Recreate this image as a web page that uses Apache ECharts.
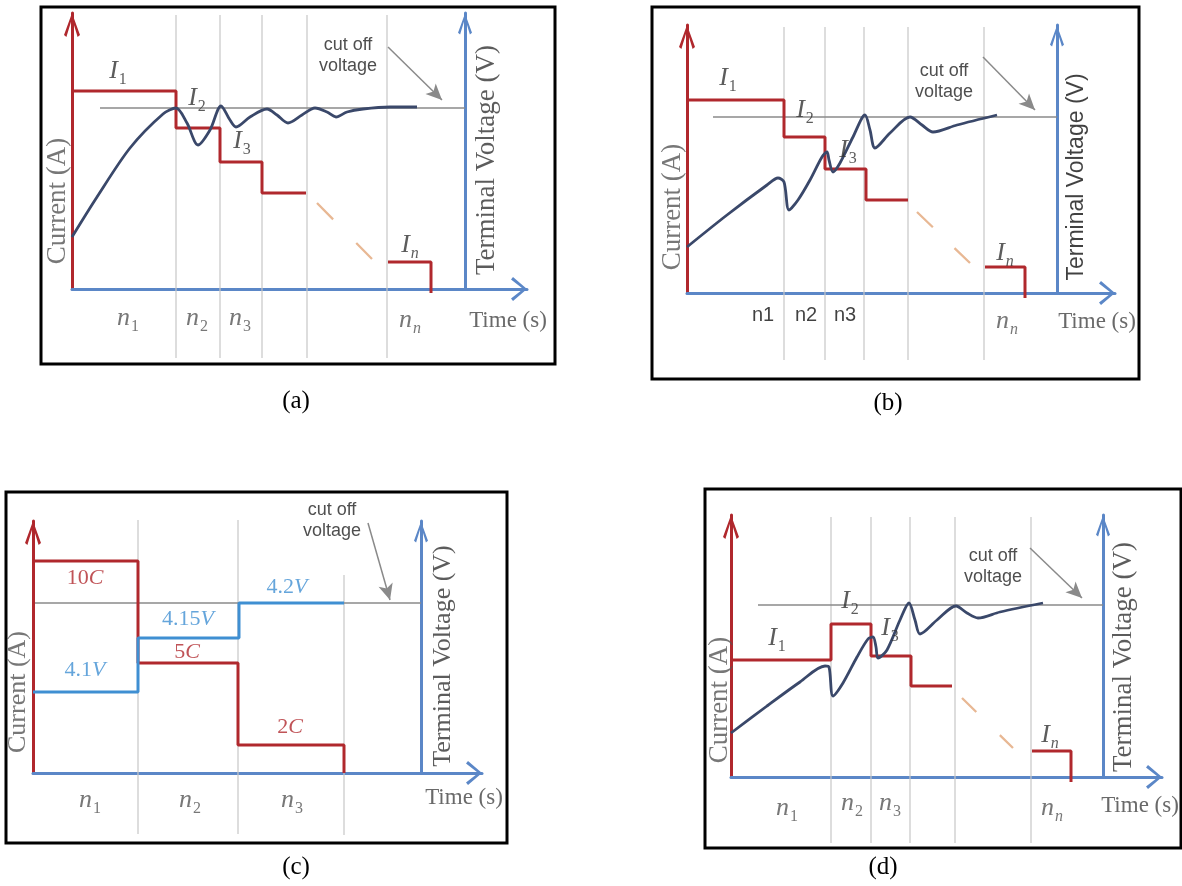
<!DOCTYPE html>
<html><head><meta charset="utf-8">
<script src="https://cdn.jsdelivr.net/npm/echarts@6/dist/echarts.min.js"></script>
<style>html,body{margin:0;padding:0;background:#fff}#c{width:1182px;height:886px}</style>
</head><body><div id="c"></div>
<script>
// ================= DATA (schematic units, origin at axes corner) =================
// ---- Panel (a) ----
const aCurrentSteps = [[0,198],[104,198],[104,161],[148,161],[148,127],[190,127],[190,96],[234,96]];
const aCurrentLast  = [[316,27],[359,27],[359,-4]];
const aTrend        = [[245,86],[300,30]];
const aVoltage      = [[0,52],[25,92],[58,141],[91,175],[104,181],[115,166],[126,144],[138,159],[149,183],[158,169],[164,162],[178,172],[195,180],[205,174],[216,166],[230,174],[243,181],[255,177],[264,172],[275,177],[291,180],[318,182],[345,182]];
const aCutoff       = [[28,181],[393,181]];
const aBoundaries   = [104,148,190,235,315];
const aBoundTop     = [274,274,274,274,274];
const aBoundBottom  = [-69,-69,-69,-69,-69];
const aCurrentSubs  = ['1','2','3','n'];
const aCurrentLblX  = [46,125,170,338];
const aCurrentLblY  = [216,189,146,42];
const aSegSubs      = ['1','2','3','n'];
const aSegLblX      = [56,125,168,338];
const aSegLblY      = [-31,-31,-31,-33];
const aArrow        = [[316,242],[370,189]];

// ---- Panel (b) ----
const bCurrentSteps = [[0,193],[97,193],[97,156],[138,156],[138,124],[179,124],[179,93],[221,93]];
const bCurrentLast  = [[298,26],[338,26],[338,-5]];
const bTrend        = [[230,81],[283,30]];
const bVoltage      = [[0,46],[40,78],[80,108],[91,115],[97,111],[102,83],[111,93],[123,113],[135,136],[140,141],[142,133],[146,121],[153,130],[166,156],[178,178],[183,163],[188,145],[203,160],[223,176],[235,168],[246,161],[270,168],[310,178]];
const bCutoff       = [[26,176],[370,176]];
const bBoundaries   = [97,138,177,221,297];
const bBoundTop     = [266,266,266,266,266];
const bBoundBottom  = [-67,-67,-67,-67,-67];
const bCurrentSubs  = ['1','2','3','n'];
const bCurrentLblX  = [41,118,161,318];
const bCurrentLblY  = [213,181,141,38];
const bSegTexts     = ['n1','n2','n3'];
const bSegLblX      = [76,119,158];
const bSegLblY      = [-22,-22,-22];
const bSegLastSub   = 'n';
const bSegLastX     = 320;
const bSegLastY     = -30;
const bArrow        = [[296,236],[348,183]];

// ---- Panel (c) ----
const cCurrentSteps = [[0,212],[105,212],[105,110],[205,110],[205,28],[311,28],[311,0]];
const cVoltageSteps = [[0,81],[105,81],[105,135],[206,135],[206,170],[311,170]];
const cCutoff       = [[2,170],[388,170]];
const cBoundaries   = [105,205,311];
const cBoundTop     = [253,253,198];
const cBoundBottom  = [-61,-61,-62];
const cCurrentNum   = ['10','5','2'];
const cCurrentLblX  = [52,154,257];
const cCurrentLblY  = [195,121,46];
const cVoltNum      = ['4.1','4.15','4.2'];
const cVoltLblX     = [52,155,254];
const cVoltLblY     = [103,154,186];
const cSegSubs      = ['1','2','3'];
const cSegLblX      = [57,157,259];
const cSegLblY      = [-29,-29,-29];
const cArrow        = [[335,250],[357,173]];

// ---- Panel (d) ----
const dCurrentSteps = [[0,117],[100,117],[100,153],[140,153],[140,121],[180,121],[180,91],[221,91]];
const dCurrentLast  = [[301,26],[340,26],[340,-5]];
const dTrend        = [[231,79],[282,29]];
const dVoltage      = [[0,44],[36,71],[69,95],[94,111],[98,110],[102,81],[112,94],[126,120],[137,138],[142,140],[145,130],[147,119],[156,127],[169,157],[178,174],[184,157],[189,143],[206,157],[225,171],[236,164],[247,159],[269,165],[312,174]];
const dCutoff       = [[27,172],[372,172]];
const dBoundaries   = [100,140,179,224,300];
const dBoundTop     = [260,260,260,260,260];
const dBoundBottom  = [-66,-66,-66,-66,-66];
const dCurrentSubs  = ['1','2','3','n'];
const dCurrentLblX  = [46,119,159,319];
const dCurrentLblY  = [137,174,147,40];
const dSegSubs      = ['1','2','3','n'];
const dSegLblX      = [56,121,159,321];
const dSegLblY      = [-33,-28,-28,-33];
const dArrow        = [[299,229],[351,179]];

// ================= STYLE / LAYOUT =================
const SERIF = '"Liberation Serif","Times New Roman",serif';
const SANS  = '"Liberation Sans",Arial,sans-serif';
const RED = '#b0282d', AXBLUE = '#5b87c7', CURVE = '#3a486a', SEP = '#c6c6c6', CUT = '#8a8a8a', ORANGE = '#e8b894';
const STEPBLUE = '#3f8fd2', TXT = '#333', TXT2 = '#555';
const ARROW_V = 'path://M8,0L16,22L13.6,24L8,5.5L2.4,24L0,22Z';
const ARROW_H = 'path://M12,0L24,14L21.5,16L12,3.8L2.5,16L0,14Z';

const RICH = {
  I:  {fontFamily: SERIF, fontStyle: 'italic', fontSize: 26, color: TXT, verticalAlign: 'top'},
  Is: {fontFamily: SERIF, fontSize: 16, color: TXT, padding: [14,0,0,1], verticalAlign: 'top'},
  Isi:{fontFamily: SERIF, fontStyle: 'italic', fontSize: 16, color: TXT, padding: [14,0,0,1], verticalAlign: 'top'},
  n:  {fontFamily: SERIF, fontStyle: 'italic', fontSize: 26, color: TXT2, verticalAlign: 'top'},
  ns: {fontFamily: SERIF, fontSize: 16, color: TXT2, padding: [14,0,0,1], verticalAlign: 'top'},
  nsi:{fontFamily: SERIF, fontStyle: 'italic', fontSize: 16, color: TXT2, padding: [14,0,0,1], verticalAlign: 'top'},
  r:  {fontFamily: SERIF, fontSize: 22, color: RED},
  ri: {fontFamily: SERIF, fontStyle: 'italic', fontSize: 22, color: RED},
  b:  {fontFamily: SERIF, fontSize: 22, color: STEPBLUE},
  bi: {fontFamily: SERIF, fontStyle: 'italic', fontSize: 22, color: STEPBLUE}
};
function sub(main, s, subStyle) {
  const st = subStyle || (s === 'n' ? (main === 'I' ? 'Isi' : 'nsi') : (main === 'I' ? 'Is' : 'ns'));
  return '{' + (main === 'I' ? 'I' : 'n') + '|' + main + '}{' + st + '|' + s + '}';
}

const LAYOUT = {
  a: {box:[41,7,555,364],  ox:72,  oy:289, top:13,  tip:527,  blue:465,
      cur:{x:58,y:201,size:27,font:SERIF}, volt:{x:487,y:160,size:27,font:SERIF,color:'#333'},
      time:{x:508,y:321}, cut:{x:348,y:56}, caption:{x:296,y:401,t:'(a)'}},
  b: {box:[652,7,1139,379], ox:687, oy:293, top:25,  tip:1115, blue:1057,
      cur:{x:673,y:207,size:27,font:SERIF}, volt:{x:1077,y:177,size:23,font:SANS,color:'#111'},
      time:{x:1097,y:322}, cut:{x:944,y:82}, caption:{x:888,y:403,t:'(b)'}},
  c: {box:[6,492,507,843],  ox:33,  oy:773, top:521, tip:482,  blue:421,
      cur:{x:18,y:692,size:26,font:SERIF}, volt:{x:443,y:656,size:26,font:SERIF,color:'#333'},
      time:{x:464,y:798}, cut:{x:332,y:521}, caption:{x:296,y:867,t:'(c)'}},
  d: {box:[705,489,1181,848], ox:731, oy:777, top:515, tip:1162, blue:1103,
      cur:{x:720,y:700,size:27,font:SERIF}, volt:{x:1124,y:657,size:27,font:SERIF,color:'#333'},
      time:{x:1140,y:806}, cut:{x:993,y:567}, caption:{x:883,y:867,t:'(d)'}}
};

// ================= BUILD =================
const grids = [], xAxes = [], yAxes = [], series = [], graphics = [];

function lineSeries(xi, yi, data, style, extra) {
  return Object.assign({type:'line', xAxisIndex: xi, yAxisIndex: yi, data: data, symbol:'none',
    silent:true, animation:false, clip:false, lineStyle: style}, extra || {});
}
function label(x, y, text, opt) {
  return {value:[x, y], label: Object.assign({show:true, position:'inside', formatter:text, rich: RICH}, opt || {})};
}

function addPanel(L, P) {
  const gm = grids.length;
  grids.push({left:L.ox, top:L.top, width:L.tip-L.ox, height:L.oy-L.top, outerBoundsMode:'none', containLabel:false});
  const gs = grids.length;
  grids.push({left:L.box[0], top:L.box[1], width:L.box[2]-L.box[0], height:L.box[3]-L.box[1], outerBoundsMode:'none', containLabel:false});
  const hide = {axisTick:{show:false}, axisLabel:{show:false}, splitLine:{show:false}};
  const xm = xAxes.length;
  xAxes.push(Object.assign({gridIndex:gm, type:'value', min:0, max:L.tip-L.ox,
    axisLine:{show:true, onZero:false, lineStyle:{color:AXBLUE, width:3},
      symbol:['none', ARROW_H], symbolSize:[24,16], symbolOffset:[0,-8]}}, hide));
  const xs = xAxes.length;
  xAxes.push(Object.assign({gridIndex:gs, type:'value', show:false, min:L.box[0]-L.ox, max:L.box[2]-L.ox}, hide));
  const yr = yAxes.length;
  yAxes.push(Object.assign({gridIndex:gm, type:'value', position:'left', min:0, max:L.oy-L.top,
    axisLine:{show:true, onZero:false, lineStyle:{color:RED, width:3},
      symbol:['none', ARROW_V], symbolSize:[16,24], symbolOffset:[0,-12]}}, hide));
  const yb = yAxes.length;
  yAxes.push(Object.assign({gridIndex:gm, type:'value', position:'right', offset:-(L.tip-L.blue), min:0, max:L.oy-L.top,
    axisLine:{show:true, onZero:false, lineStyle:{color:AXBLUE, width:3},
      symbol:['none', ARROW_V], symbolSize:[14,22], symbolOffset:[0,-11]}}, hide));
  const ys = yAxes.length;
  yAxes.push(Object.assign({gridIndex:gs, type:'value', show:false, min:L.oy-L.box[3], max:L.oy-L.box[1]}, hide));

  // separators
  P.bounds.forEach(function (x, i) {
    series.push(lineSeries(xs, ys, [[x, P.boundTop[i]], [x, P.boundBottom[i]]], {color:SEP, width:1.2}, {z:1}));
  });
  // cutoff line (voltage axis)
  series.push(lineSeries(xm, yb, P.cutoff, {color:CUT, width:1.3}, {z:2}));
  // voltage
  if (P.voltage) series.push(lineSeries(xm, yb, P.voltage, {color:CURVE, width:2.8}, {smooth:0.3, z:4}));
  if (P.voltSteps) series.push(lineSeries(xm, yb, P.voltSteps, {color:STEPBLUE, width:3}, {z:4}));
  // current
  series.push(lineSeries(xm, yr, P.current, {color:RED, width:3}, {z:3}));
  if (P.currentLast) series.push(lineSeries(xm, yr, P.currentLast, {color:RED, width:3}, {z:3}));
  if (P.trend) series.push(lineSeries(xm, yr, P.trend, {color:ORANGE, width:2.3, type:P.trendDash}, {z:3}));

  // annotation labels
  const px = function (v) { return v - L.ox; }, py = function (v) { return L.oy - v; };
  const items = P.labels.slice();
  items.push(label(px(L.cur.x), py(L.cur.y), 'Current (A)', {rotate:90, fontFamily:L.cur.font, fontSize:L.cur.size, color:'#555'}));
  items.push(label(px(L.volt.x), py(L.volt.y), 'Terminal Voltage (V)', {rotate:90, fontFamily:L.volt.font, fontSize:L.volt.size, color:L.volt.color}));
  items.push(label(px(L.time.x), py(L.time.y), 'Time (s)', {fontFamily:SERIF, fontSize:23, color:'#444'}));
  items.push(label(px(L.cut.x), py(L.cut.y), 'cut off\nvoltage', {fontFamily:SANS, fontSize:18, lineHeight:21, color:'#222', align:'center'}));
  series.push({type:'scatter', xAxisIndex:xs, yAxisIndex:ys, symbolSize:0, silent:true, animation:false, z:6,
    data: items,
    markLine: {silent:true, animation:false, symbol:['none','arrow'], symbolSize:[11,16], label:{show:false},
      lineStyle:{color:CUT, width:1.5, type:'solid'},
      data:[[{coord:P.arrow[0]}, {coord:P.arrow[1]}]]}});

  graphics.push({type:'rect', shape:{x:L.box[0], y:L.box[1], width:L.box[2]-L.box[0], height:L.box[3]-L.box[1]},
    style:{fill:'none', stroke:'#000', lineWidth:3}, z:100});
  graphics.push({type:'text', x:L.caption.x, y:L.caption.y,
    style:{text:L.caption.t, fontFamily:SERIF, fontSize:25, fill:'#000', align:'center', verticalAlign:'middle',
      textAlign:'center', textVerticalAlign:'middle'}});
}

function iLabels(subs, xs, ys) { return subs.map(function (s, i) { return label(xs[i], ys[i], sub('I', s)); }); }
function nLabels(subs, xs, ys) { return subs.map(function (s, i) { return label(xs[i], ys[i], sub('n', s)); }); }

addPanel(LAYOUT.a, {bounds:aBoundaries, boundTop:aBoundTop, boundBottom:aBoundBottom, cutoff:aCutoff,
  voltage:aVoltage, current:aCurrentSteps, currentLast:aCurrentLast, trend:aTrend, trendDash:[23,33], arrow:aArrow,
  labels: iLabels(aCurrentSubs, aCurrentLblX, aCurrentLblY).concat(nLabels(aSegSubs, aSegLblX, aSegLblY))});

addPanel(LAYOUT.b, {bounds:bBoundaries, boundTop:bBoundTop, boundBottom:bBoundBottom, cutoff:bCutoff,
  voltage:bVoltage, current:bCurrentSteps, currentLast:bCurrentLast, trend:bTrend, trendDash:[22,30], arrow:bArrow,
  labels: iLabels(bCurrentSubs, bCurrentLblX, bCurrentLblY)
    .concat(bSegTexts.map(function (t, i) { return label(bSegLblX[i], bSegLblY[i], t, {fontFamily:SANS, fontSize:20, color:'#111'}); }))
    .concat([label(bSegLastX, bSegLastY, sub('n', bSegLastSub))])});

addPanel(LAYOUT.c, {bounds:cBoundaries, boundTop:cBoundTop, boundBottom:cBoundBottom, cutoff:cCutoff,
  voltSteps:cVoltageSteps, current:cCurrentSteps, arrow:cArrow,
  labels: cCurrentNum.map(function (t, i) { return label(cCurrentLblX[i], cCurrentLblY[i], '{r|' + t + '}{ri|C}'); })
    .concat(cVoltNum.map(function (t, i) { return label(cVoltLblX[i], cVoltLblY[i], '{b|' + t + '}{bi|V}'); }))
    .concat(nLabels(cSegSubs, cSegLblX, cSegLblY))});

addPanel(LAYOUT.d, {bounds:dBoundaries, boundTop:dBoundTop, boundBottom:dBoundBottom, cutoff:dCutoff,
  voltage:dVoltage, current:dCurrentSteps, currentLast:dCurrentLast, trend:dTrend, trendDash:[20,33], arrow:dArrow,
  labels: iLabels(dCurrentSubs, dCurrentLblX, dCurrentLblY).concat(nLabels(dSegSubs, dSegLblX, dSegLblY))});

const chart = echarts.init(document.getElementById('c'), null, {renderer:'canvas'});
chart.setOption({
  backgroundColor:'#fff', animation:false,
  grid: grids, xAxis: xAxes, yAxis: yAxes, series: series, graphic: graphics
});
</script></body></html>
